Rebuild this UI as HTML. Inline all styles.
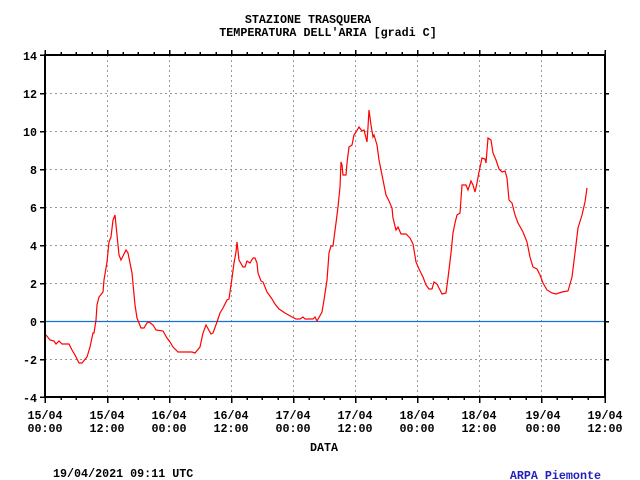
<!DOCTYPE html>
<html><head><meta charset="utf-8"><style>
html,body{margin:0;padding:0;background:#fff;}
svg{display:block;}
text{font-family:"Liberation Mono","DejaVu Sans Mono",monospace;font-size:11.7px;font-weight:bold;fill:#000;}
</style></head><body>
<svg width="640" height="480" viewBox="0 0 640 480" xmlns="http://www.w3.org/2000/svg">
<rect width="640" height="480" fill="#fff"/>
<g stroke="#999" stroke-width="1" stroke-dasharray="2,3" shape-rendering="crispEdges">
<line x1="45" y1="93.5" x2="605" y2="93.5"/>
<line x1="45" y1="131.5" x2="605" y2="131.5"/>
<line x1="45" y1="169.5" x2="605" y2="169.5"/>
<line x1="45" y1="207.5" x2="605" y2="207.5"/>
<line x1="45" y1="245.5" x2="605" y2="245.5"/>
<line x1="45" y1="283.5" x2="605" y2="283.5"/>
<line x1="45" y1="359.5" x2="605" y2="359.5"/>
<line x1="107.5" y1="55" x2="107.5" y2="397"/>
<line x1="169.5" y1="55" x2="169.5" y2="397"/>
<line x1="231.5" y1="55" x2="231.5" y2="397"/>
<line x1="293.5" y1="55" x2="293.5" y2="397"/>
<line x1="355.5" y1="55" x2="355.5" y2="397"/>
<line x1="417.5" y1="55" x2="417.5" y2="397"/>
<line x1="479.5" y1="55" x2="479.5" y2="397"/>
<line x1="541.5" y1="55" x2="541.5" y2="397"/>
</g>
<line x1="45" y1="321.5" x2="605" y2="321.5" stroke="#1a6fd6" stroke-width="1.3"/>
<polyline fill="none" stroke="#ff0000" stroke-width="1.2" points="46,335 50,340 54,341 56,344 59,341 62,344 69,344 72,350 75,355 79,363 82,363 87,357 90,347 93,333 94,333 96,320 97,305 99,297 103,292 104,280 107,262 109,242 111,237 113,220 115,215 117,235 119,255 121,260 126,250 128,253 132,273 135,305 137,318 141,328 144,328 147,323 149,322 153,325 156,330 163,331 167,338 170,342 173,347 178,352 192,352 195,353 200,347 203,333 206,325 211,334 213,333 217,322 220,313 223,308 227,300 229,299 232,278 234,263 236,252 237,242 239,260 243,267 245,267 247,261 250,263 253,258 255,258 257,263 258,273 261,281 263,282 267,292 272,299 275,304 279,309 285,313 292,317 296,319 300,319 303,317 305,319 313,319 315,317 317,321 322,312 324,300 327,280 329,253 331,246 333,246 336,223 338,207 340,187 341,162 342,165 343,175 346,175 347,163 349,147 352,145 354,135 356,132 359,127 362,131 364,130 367,142 368,127 369,110 371,125 373,137 374,135 377,145 379,160 383,180 386,195 389,201 392,208 393,218 396,230 398,227 401,234 406,234 410,238 413,244 416,262 419,269 423,277 426,285 429,289 432,289 434,282 437,284 440,290 442,294 446,293 448,278 451,253 453,233 455,223 457,215 460,213 462,185 466,185 468,190 471,181 473,185 475,192 477,183 479,172 482,158 485,159 486,163 488,138 491,140 493,153 496,160 499,169 502,172 505,171 507,178 509,200 512,203 515,215 518,223 523,232 527,242 530,257 533,267 537,269 540,275 543,283 547,290 552,293 556,294 562,292 568,291 572,277 575,253 578,228 582,215 585,202 587,188"/>
<g stroke="#000" stroke-width="2" fill="none" shape-rendering="crispEdges">
<rect x="45" y="55" width="560" height="342"/>
</g>
<g stroke="#000" stroke-width="1.5" shape-rendering="crispEdges">
<path d="M40 55H45M40 93.5H45M40 131.5H45M40 169.5H45M40 207.5H45M40 245.5H45M40 283.5H45M40 321.5H45M40 359.5H45M40 397H45"/>
<path d="M605 93.5H609M605 131.5H609M605 169.5H609M605 207.5H609M605 245.5H609M605 283.5H609M605 321.5H609M605 359.5H609"/>
<path d="M45 397V403M107.5 397V403M169.5 397V403M231.5 397V403M293.5 397V403M355.5 397V403M417.5 397V403M479.5 397V403M541.5 397V403M605 397V403"/>
<path d="M45 55V50M107.5 55V50M169.5 55V50M231.5 55V50M293.5 55V50M355.5 55V50M417.5 55V50M479.5 55V50M541.5 55V50M605 55V50"/>
<path d="M61 397V400M76 397V400M92 397V400M123 397V400M138 397V400M154 397V400M185 397V400M200 397V400M216 397V400M247 397V400M262 397V400M278 397V400M309 397V400M324 397V400M340 397V400M371 397V400M386 397V400M402 397V400M433 397V400M448 397V400M464 397V400M495 397V400M510 397V400M526 397V400M557 397V400M572 397V400M588 397V400"/>
<path d="M61 55V52M76 55V52M92 55V52M123 55V52M138 55V52M154 55V52M185 55V52M200 55V52M216 55V52M247 55V52M262 55V52M278 55V52M309 55V52M324 55V52M340 55V52M371 55V52M386 55V52M402 55V52M433 55V52M448 55V52M464 55V52M495 55V52M510 55V52M526 55V52M557 55V52M572 55V52M588 55V52"/>
</g>
<text x="308" y="23" text-anchor="middle">STAZIONE TRASQUERA</text>
<text x="328" y="36" text-anchor="middle">TEMPERATURA DELL'ARIA [gradi C]</text>
<g text-anchor="end">
<text x="37" y="60">14</text><text x="37" y="98">12</text><text x="37" y="136">10</text>
<text x="37" y="174">8</text><text x="37" y="212">6</text><text x="37" y="250">4</text>
<text x="37" y="288">2</text><text x="37" y="326">0</text><text x="37" y="364">-2</text><text x="37" y="402">-4</text>
</g>
<g text-anchor="middle">
<text x="45" y="419">15/04</text><text x="45" y="432">00:00</text>
<text x="107" y="419">15/04</text><text x="107" y="432">12:00</text>
<text x="169" y="419">16/04</text><text x="169" y="432">00:00</text>
<text x="231" y="419">16/04</text><text x="231" y="432">12:00</text>
<text x="293" y="419">17/04</text><text x="293" y="432">00:00</text>
<text x="355" y="419">17/04</text><text x="355" y="432">12:00</text>
<text x="417" y="419">18/04</text><text x="417" y="432">00:00</text>
<text x="479" y="419">18/04</text><text x="479" y="432">12:00</text>
<text x="543" y="419">19/04</text><text x="543" y="432">00:00</text>
<text x="605" y="419">19/04</text><text x="605" y="432">12:00</text>
<text x="324" y="451">DATA</text>
</g>
<text x="53" y="477">19/04/2021 09:11 UTC</text>
<text x="601" y="479" text-anchor="end" style="fill:#2222bb">ARPA Piemonte</text>
</svg>
</body></html>
